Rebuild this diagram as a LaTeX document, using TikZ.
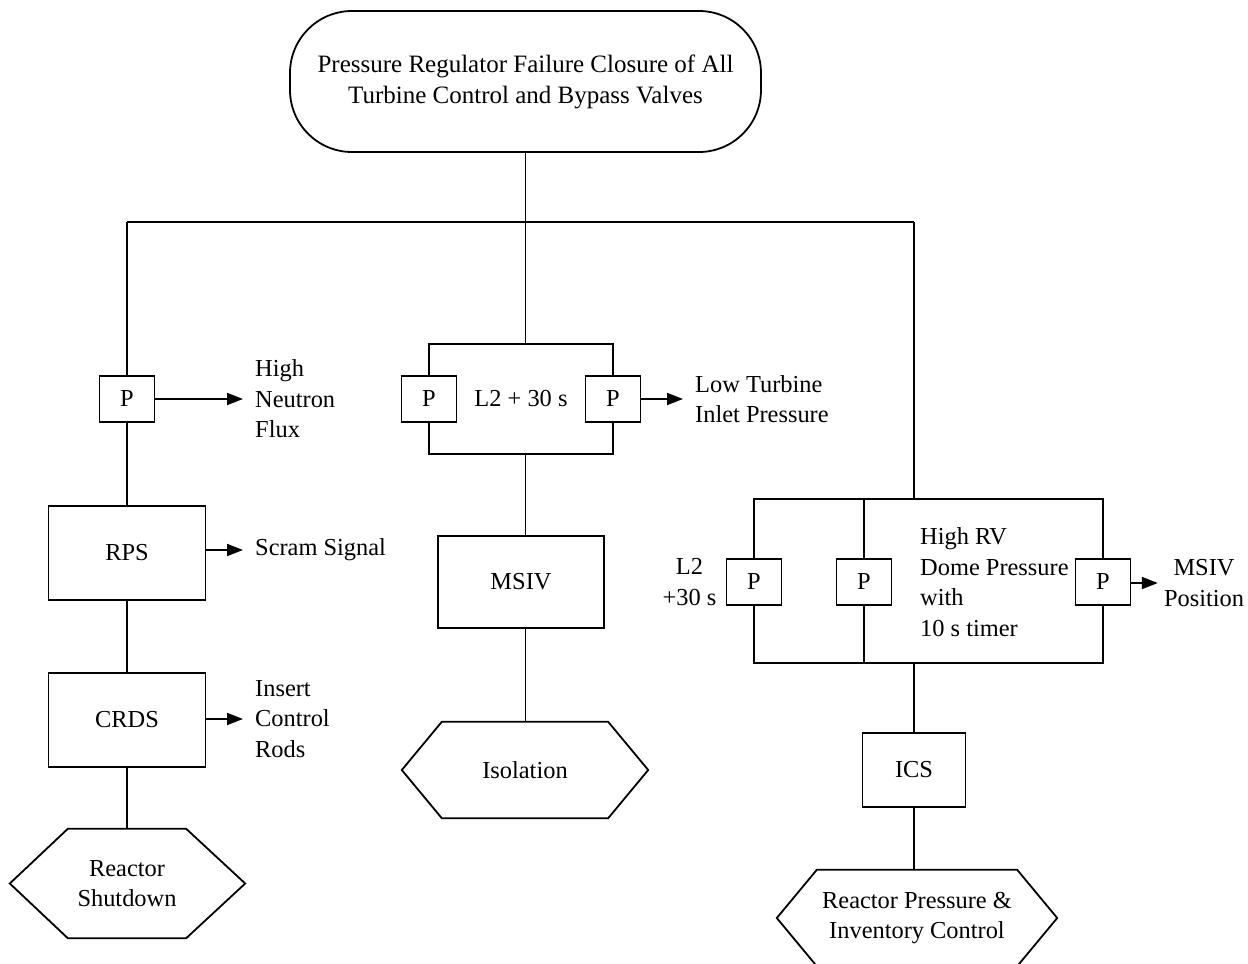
\documentclass[tikz,border=0pt]{standalone}
\usepackage{fontspec}
\setmainfont{Liberation Serif}
\usetikzlibrary{arrows.meta}
\begin{document}
\begin{tikzpicture}[x=1pt,y=-1pt,
  ln/.style={line width=1.8pt},
  arr/.style={ln,-{Triangle[length=16pt,width=12pt]}},
  every node/.style={font=\fontsize{24.4}{30.5}\selectfont, inner sep=0pt},
  blk/.style={draw, ln, rectangle},
  pbox/.style={blk, minimum width=55pt, minimum height=46pt},
  lbl/.style={align=left, anchor=west, inner xsep=12pt},
  ]
\useasboundingbox (0,0) rectangle (1248,964);

% top terminal
\node[blk, rounded corners=62pt, minimum width=471pt, minimum height=141pt, align=center,
  font=\fontsize{25}{31}\selectfont] (top) at (525.5,81.5)
  {Pressure Regulator Failure Closure of All\\Turbine Control and Bypass Valves};
\coordinate (bm) at (525.5,222);
\coordinate (bl) at (127,222);
\coordinate (br) at (914,222);
\draw[ln] (top.south) -- (bm);
\draw[ln] (bl) -- (br);

% left column
\node[pbox] (p1) at (127,399) {P};
\node[blk, minimum width=157pt, minimum height=94pt] (rps) at (127,553) {RPS};
\node[blk, minimum width=157pt, minimum height=94pt] (crds) at (127,720) {CRDS};
\node[minimum width=118pt, minimum height=109pt, align=center] (rsd) at (127,883.5) {Reactor\\Shutdown};
\draw[ln] (rsd.north west) -- (rsd.north east) -- ([xshift=59pt]rsd.east) -- (rsd.south east)
  -- (rsd.south west) -- ([xshift=-58pt]rsd.west) -- cycle;
\draw[ln] (bl) -- (p1.north);
\draw[ln] (p1.south) -- (rps.north);
\draw[ln] (rps.south) -- (crds.north);
\draw[ln] (crds.south) -- (rsd.north);
\node[lbl] (hnf) at (243,399) {High\\Neutron\\Flux};
\node[lbl] (scr) at (243,550) {Scram Signal};
\node[lbl] (icr) at (243,719) {Insert\\Control\\Rods};
\draw[arr] (p1.east) -- (hnf.west);
\draw[arr] (rps.east |- scr.west) -- (scr.west);
\draw[arr] (crds.east |- icr.west) -- (icr.west);

% middle column
\coordinate (mt) at (525.5,344);
\coordinate (mtl) at (429,344);
\coordinate (mtr) at (613,344);
\coordinate (mbl) at (429,454);
\coordinate (mbr) at (613,454);
\coordinate (mb) at (525.5,454);
\node[pbox] (p2) at (429,399) {P};
\node[pbox] (p3) at (613,399) {P};
\node (l2a) at (521,399) {L2 + 30 s};
\draw[ln] (bm) -- (mt);
\draw[ln] (p2.north) -- (mtl) -- (mtr) -- (p3.north);
\draw[ln] (p2.south) -- (mbl) -- (mbr) -- (p3.south);
\node[lbl] (ltip) at (683,399) {Low Turbine\\Inlet Pressure};
\draw[arr] (p3.east) -- (ltip.west);
\node[blk, minimum width=166pt, minimum height=92pt] (msiv) at (521,582) {MSIV};
\node[minimum width=166pt, minimum height=96pt] (iso) at (525,770) {Isolation};
\draw[ln] (iso.north west) -- (iso.north east) -- ([xshift=40pt]iso.east) -- (iso.south east)
  -- (iso.south west) -- ([xshift=-40pt]iso.west) -- cycle;
\draw[ln] (mb) -- (mb |- msiv.north);
\draw[ln] (msiv.south -| mb) -- (mb |- iso.north);

% right column
\coordinate (rt) at (914,499);
\coordinate (rtl) at (754,499);
\coordinate (rtm) at (864,499);
\coordinate (rtr) at (1103,499);
\coordinate (rbl) at (754,663);
\coordinate (rbm) at (864,663);
\coordinate (rbr) at (1103,663);
\coordinate (rb) at (914,663);
\node[pbox] (p4) at (754,582) {P};
\node[pbox] (p5) at (864,582) {P};
\node[pbox] (p6) at (1103,582) {P};
\draw[ln] (br) -- (rt);
\draw[ln] (p4.north) -- (rtl) -- (rtr) -- (p6.north);
\draw[ln] (p4.south) -- (rbl) -- (rbr) -- (p6.south);
\draw[ln] (rtm) -- (p5.north);
\draw[ln] (p5.south) -- (rbm);
\node[align=center] (l2b) at (689.5,582) {L2\\+30 s};
\node[align=left, anchor=west] (hrv) at (920,582) {High RV\\Dome Pressure\\with\\10 s timer};
\node[align=center, inner xsep=6pt] (msp) at (1204,583) {MSIV\\Position};
\draw[arr] (p6.east |- msp.west) -- (msp.west);
\node[blk, minimum width=103pt, minimum height=74pt] (ics) at (914,770) {ICS};
\node[minimum width=200pt, minimum height=96pt, align=center] (rpic) at (917,918)
  {Reactor Pressure \&\\Inventory Control};
\draw[ln] (rpic.north west) -- (rpic.north east) -- ([xshift=40pt]rpic.east) -- (rpic.south east)
  -- (rpic.south west) -- ([xshift=-40pt]rpic.west) -- cycle;
\draw[ln] (rb) -- (ics.north);
\draw[ln] (ics.south) -- (ics.south |- rpic.north);
\end{tikzpicture}
\end{document}
